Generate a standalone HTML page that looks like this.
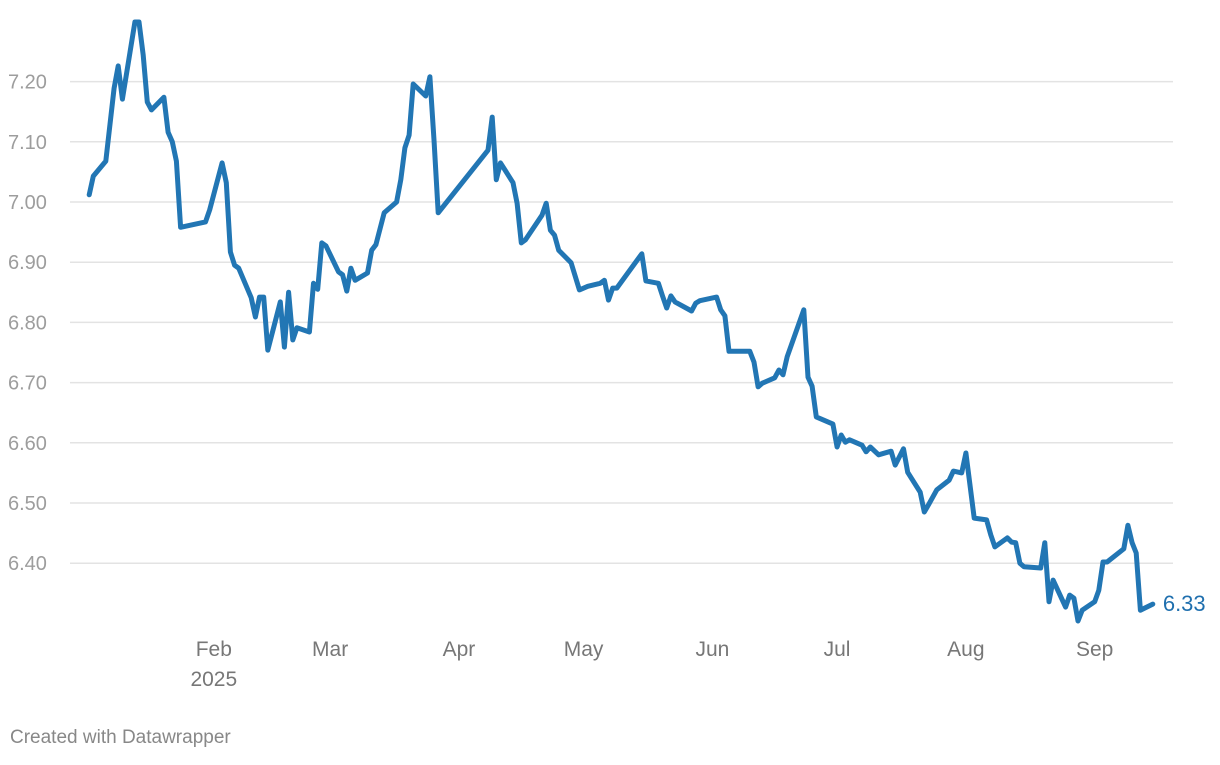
<!DOCTYPE html>
<html><head><meta charset="utf-8">
<style>
html,body{margin:0;padding:0;background:#fff;}
body{width:1220px;height:760px;overflow:hidden;font-family:"Liberation Sans",sans-serif;}
svg text{font-family:"Liberation Sans",sans-serif;}
</style></head>
<body>
<svg id="chart" width="1220" height="760" viewBox="0 0 1220 760" xmlns="http://www.w3.org/2000/svg">
<g id="grid"></g>
<g id="yaxis"></g>
<g id="xaxis"></g>
<g id="series"></g>
<text x="10" y="743" font-size="19" fill="#888">Created with Datawrapper</text>
</svg>
<script>
const days = [1,2,5,7,8,9,12,13,14,15,16,19,20,21,22,23,29,30,33,34,35,36,37,40,41,42,43,44,47,48,49,50,51,54,55,56,57,58,61,62,63,64,65,68,69,70,72,75,76,77,78,79,82,83,84,85,97,98,99,100,103,104,105,106,110,111,112,113,114,117,119,121,124,125,126,127,128,134,135,138,139,140,141,142,146,147,148,152,153,154,155,160,161,162,163,166,167,168,169,173,174,175,176,180,181,182,183,184,187,188,189,191,194,195,197,198,201,202,203,205,208,209,211,212,214,217,218,219,222,223,224,225,226,230,231,232,233,236,237,238,239,240,243,244,245,246,250,251,252,253,254,257];
const values = [7.012,7.043,7.068,7.189,7.226,7.171,7.299,7.299,7.244,7.166,7.153,7.174,7.116,7.100,7.068,6.958,6.967,6.987,7.065,7.032,6.917,6.895,6.890,6.841,6.809,6.842,6.842,6.754,6.834,6.759,6.850,6.771,6.791,6.784,6.865,6.855,6.932,6.927,6.884,6.879,6.852,6.890,6.870,6.882,6.920,6.929,6.982,7.000,7.037,7.090,7.111,7.196,7.176,7.208,7.103,6.982,7.086,7.141,7.037,7.065,7.032,6.998,6.932,6.937,6.978,6.998,6.953,6.945,6.920,6.899,6.854,6.860,6.865,6.870,6.837,6.857,6.857,6.914,6.869,6.865,6.844,6.824,6.844,6.834,6.819,6.832,6.836,6.842,6.821,6.811,6.752,6.752,6.734,6.693,6.699,6.708,6.721,6.713,6.743,6.821,6.709,6.694,6.643,6.631,6.593,6.613,6.601,6.605,6.596,6.585,6.593,6.580,6.586,6.563,6.590,6.551,6.518,6.485,6.497,6.522,6.538,6.553,6.550,6.583,6.475,6.472,6.447,6.427,6.442,6.435,6.434,6.400,6.394,6.392,6.434,6.336,6.372,6.327,6.347,6.342,6.304,6.322,6.336,6.355,6.402,6.402,6.424,6.463,6.434,6.417,6.322,6.332];
const yTicks = [6.4,6.5,6.6,6.7,6.8,6.9,7.0,7.1,7.2];
const xTickDays = [31,59,90,120,151,181,212,243];
const xTickLabels = ["Feb","Mar","Apr","May","Jun","Jul","Aug","Sep"];
const lastLabel = "6.33";

const NS = "http://www.w3.org/2000/svg";
function xScale(d){ return 85 + d * 4.155; }
function yScale(v){ return 202 - (v - 7.0) * 602; }
function mk(tag, attrs, parent){
  const e = document.createElementNS(NS, tag);
  for (const k in attrs) e.setAttribute(k, attrs[k]);
  parent.appendChild(e);
  return e;
}
const grid = document.getElementById('grid');
const yaxis = document.getElementById('yaxis');
const xaxis = document.getElementById('xaxis');
const series = document.getElementById('series');

yTicks.forEach(v => {
  const y = yScale(v);
  const l = mk('line', {x1:70, x2:1173, y1:y, y2:y, stroke:'#e3e3e3', 'stroke-width':1.5}, grid);
  
  
  const t = mk('text', {x:8, y:y+7, 'font-size':20, fill:'#9d9d9d'}, yaxis);
  
  
  t.textContent = v.toFixed(2);
});

xTickDays.forEach((d, i) => {
  const t = mk('text', {x:xScale(d), y:656, 'font-size':21, fill:'#777', 'text-anchor':'middle'}, xaxis);
  
  
  t.textContent = xTickLabels[i];
});
const yr = mk('text', {x:xScale(xTickDays[0]), y:686, 'font-size':21, fill:'#777', 'text-anchor':'middle'}, xaxis);


yr.textContent = "2025";

const pts = days.map((d, i) => xScale(d).toFixed(1) + ',' + yScale(values[i]).toFixed(1)).join(' ');
const line = mk('polyline', {points:pts, fill:'none', stroke:'#2276b4', 'stroke-width':5, 'stroke-linejoin':'round', 'stroke-linecap':'round'}, series);



const lx = xScale(days[days.length-1]) + 10;
const ly = yScale(values[values.length-1]) + 7;
const lbl = mk('text', {x:lx, y:ly, 'font-size':22, fill:'#1f6fae'}, series);


lbl.textContent = lastLabel;
</script>
</body></html>
